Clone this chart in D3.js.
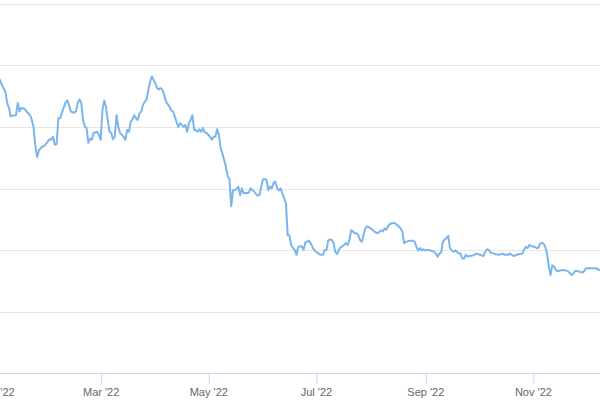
<!DOCTYPE html>
<html>
<head>
<meta charset="utf-8">
<script src="https://cdn.jsdelivr.net/npm/d3@7"></script>
<style>
  html, body { margin: 0; padding: 0; background: #ffffff; }
  svg { display: block; }
</style>
</head>
<body>
<svg id="chart" width="600" height="400"></svg>
<script>
const dates = [
  "2022-01-01","2022-01-03","2022-01-04","2022-01-06","2022-01-07","2022-01-08","2022-01-09","2022-01-10","2022-01-12","2022-01-13",
  "2022-01-14","2022-01-15","2022-01-17","2022-01-18","2022-01-20","2022-01-21","2022-01-22","2022-01-23","2022-01-24","2022-01-25",
  "2022-01-27","2022-01-28","2022-01-30","2022-01-31","2022-02-01","2022-02-02","2022-02-03","2022-02-04","2022-02-05","2022-02-06",
  "2022-02-08","2022-02-09","2022-02-10","2022-02-11","2022-02-12","2022-02-14","2022-02-15","2022-02-16","2022-02-17","2022-02-18",
  "2022-02-19","2022-02-20","2022-02-21","2022-02-22","2022-02-23","2022-02-24","2022-02-25","2022-02-27","2022-02-28","2022-03-01",
  "2022-03-02","2022-03-03","2022-03-04","2022-03-05","2022-03-06","2022-03-07","2022-03-08","2022-03-09","2022-03-10","2022-03-11",
  "2022-03-12","2022-03-13","2022-03-14","2022-03-15","2022-03-16","2022-03-17","2022-03-18","2022-03-19","2022-03-20","2022-03-21",
  "2022-03-22","2022-03-23","2022-03-24","2022-03-25","2022-03-26","2022-03-27","2022-03-28","2022-03-29","2022-03-30","2022-03-31",
  "2022-04-01","2022-04-02","2022-04-03","2022-04-04","2022-04-05","2022-04-06","2022-04-07","2022-04-09","2022-04-10","2022-04-11",
  "2022-04-12","2022-04-13","2022-04-14","2022-04-15","2022-04-17","2022-04-18","2022-04-19","2022-04-20","2022-04-21","2022-04-22",
  "2022-04-23","2022-04-24","2022-04-25","2022-04-26","2022-04-27","2022-04-28","2022-04-29","2022-04-30","2022-05-02","2022-05-03",
  "2022-05-04","2022-05-05","2022-05-06","2022-05-07","2022-05-08","2022-05-09","2022-05-10","2022-05-11","2022-05-12","2022-05-13",
  "2022-05-14","2022-05-15","2022-05-16","2022-05-17","2022-05-18","2022-05-19","2022-05-20","2022-05-21","2022-05-22","2022-05-23",
  "2022-05-24","2022-05-25","2022-05-26","2022-05-27","2022-05-28","2022-05-29","2022-05-30","2022-05-31","2022-06-01","2022-06-02",
  "2022-06-03","2022-06-04","2022-06-05","2022-06-06","2022-06-07","2022-06-08","2022-06-09","2022-06-10","2022-06-11","2022-06-12",
  "2022-06-13","2022-06-14","2022-06-15","2022-06-16","2022-06-17","2022-06-18","2022-06-19","2022-06-20","2022-06-21","2022-06-23",
  "2022-06-24","2022-06-25","2022-06-26","2022-06-27","2022-06-28","2022-06-29","2022-06-30","2022-07-01","2022-07-03","2022-07-04",
  "2022-07-05","2022-07-06","2022-07-07","2022-07-08","2022-07-09","2022-07-10","2022-07-11","2022-07-12","2022-07-13","2022-07-14",
  "2022-07-15","2022-07-17","2022-07-18","2022-07-19","2022-07-20","2022-07-21","2022-07-22","2022-07-23","2022-07-24","2022-07-25",
  "2022-07-26","2022-07-27","2022-07-28","2022-07-29","2022-07-30","2022-07-31","2022-08-02","2022-08-03","2022-08-05","2022-08-07",
  "2022-08-08","2022-08-09","2022-08-10","2022-08-11","2022-08-12","2022-08-14","2022-08-15","2022-08-17","2022-08-18","2022-08-19",
  "2022-08-20","2022-08-21","2022-08-23","2022-08-25","2022-08-26","2022-08-27","2022-08-28","2022-08-29","2022-08-30","2022-08-31",
  "2022-09-01","2022-09-03","2022-09-04","2022-09-06","2022-09-07","2022-09-08","2022-09-09","2022-09-10","2022-09-11","2022-09-12",
  "2022-09-13","2022-09-14","2022-09-15","2022-09-16","2022-09-17","2022-09-18","2022-09-20","2022-09-21","2022-09-22","2022-09-23",
  "2022-09-24","2022-09-25","2022-09-26","2022-09-28","2022-09-30","2022-10-02","2022-10-04","2022-10-05","2022-10-06","2022-10-07",
  "2022-10-08","2022-10-10","2022-10-11","2022-10-13","2022-10-15","2022-10-16","2022-10-18","2022-10-19","2022-10-20","2022-10-21",
  "2022-10-23","2022-10-24","2022-10-26","2022-10-27","2022-10-28","2022-10-29","2022-10-30","2022-10-31","2022-11-02","2022-11-03",
  "2022-11-04","2022-11-05","2022-11-06","2022-11-07","2022-11-08","2022-11-09","2022-11-10","2022-11-11","2022-11-12","2022-11-13",
  "2022-11-14","2022-11-15","2022-11-16","2022-11-17","2022-11-19","2022-11-21","2022-11-22","2022-11-23","2022-11-24","2022-11-25",
  "2022-11-27","2022-11-29","2022-11-30","2022-12-01","2022-12-03","2022-12-05","2022-12-07","2022-12-08","2022-12-09","2022-12-12"
];
const values = [
  48.3,47.7,46.9,45.8,44.0,43.2,41.8,41.9,42.0,44.0,
  42.6,43.2,43.0,42.6,42.0,41.2,39.9,36.8,35.2,36.3,
  36.9,37.0,37.7,38.1,38.0,38.5,37.2,37.3,41.5,41.5,
  43.2,44.0,44.4,43.7,42.6,42.4,42.6,44.0,44.6,44.0,
  41.2,40.2,39.9,37.5,38.2,38.0,39.1,39.3,38.8,38.0,
  42.8,44.4,43.4,41.2,39.3,39.1,38.1,38.5,42.0,40.1,
  39.1,38.8,38.5,38.0,39.6,39.3,40.9,41.3,42.0,41.5,
  41.2,42.3,42.6,43.7,44.2,44.5,46.1,47.4,48.3,47.7,
  47.2,46.4,46.2,46.4,46.1,45.3,44.2,43.4,42.8,42.6,
  41.8,40.9,40.1,40.7,40.1,40.4,39.3,40.7,41.2,42.0,
  39.6,39.6,39.3,39.7,39.3,39.9,39.2,39.1,38.5,38.0,
  38.5,38.5,39.7,38.8,36.6,35.8,34.7,33.6,32.1,31.6,
  27.2,29.8,29.8,30.0,30.4,29.0,30.1,29.3,29.4,29.3,
  29.4,30.1,29.8,29.6,29.2,28.9,29.0,30.4,31.6,31.6,
  31.5,29.8,30.4,30.1,31.0,31.2,30.1,29.8,30.1,29.3,
  28.5,27.7,22.5,22.5,20.9,20.4,20.1,19.3,20.6,20.7,
  20.1,21.3,21.4,21.6,21.2,20.6,20.1,19.8,19.4,19.3,
  19.3,20.1,20.1,21.6,21.8,21.7,21.2,19.8,19.4,20.1,
  20.5,20.9,21.2,20.9,21.7,23.3,23.1,22.8,22.8,22.5,
  21.7,21.4,22.5,23.6,23.9,23.8,23.4,23.1,22.8,23.3,
  23.1,23.6,23.4,24.0,24.3,24.5,24.4,23.9,23.6,23.1,
  21.2,21.4,21.6,21.6,21.4,20.6,20.0,20.4,20.0,20.2,
  20.0,20.1,20.0,19.8,19.5,19.0,19.5,19.7,21.4,21.8,
  22.0,22.4,20.4,20.0,19.8,20.0,19.5,19.5,18.7,18.7,
  19.3,19.0,19.1,19.2,19.5,19.3,19.1,19.8,20.2,20.1,
  19.7,19.5,19.4,19.3,19.5,19.3,19.3,19.5,19.3,19.1,
  19.3,19.4,19.5,20.1,20.6,20.4,20.9,20.7,20.6,20.4,
  20.4,21.1,21.3,21.1,20.6,19.5,17.4,16.0,17.6,17.4,
  16.8,16.6,16.7,16.8,16.8,16.6,16.3,16.0,16.3,16.7,
  16.6,16.4,16.6,17.1,17.1,17.1,17.1,16.9,16.8,16.9
];
const xDomain = ["2022-01-01", "2023-01-01"];
const xTickDates = ["2022-01-01","2022-03-01","2022-05-01","2022-07-01","2022-09-01","2022-11-01"];
const yDomain = [0, 60];
const yTicks = [0, 10, 20, 30, 40, 50, 60];

const parse = d3.utcParse("%Y-%m-%d");
const data = dates.map((d, i) => ({ date: parse(d), value: values[i] }));

const W = 600, H = 400;
const plotBottom = 373.5, plotTop = 4.5;

const x = d3.scaleUtc()
  .domain(xDomain.map(parse))
  .range([-3.4, 640.5]);
const y = d3.scaleLinear()
  .domain(yDomain)
  .range([plotBottom, plotTop]);

const svg = d3.select("#chart");

// grid lines
svg.append("g")
  .selectAll("line")
  .data(yTicks.filter(t => t !== 0))
  .join("line")
  .attr("x1", 0).attr("x2", W)
  .attr("y1", d => Math.round(y(d) - 0.5) + 0.5)
  .attr("y2", d => Math.round(y(d) - 0.5) + 0.5)
  .attr("stroke", "#e6e6e6")
  .attr("stroke-width", 1);

// x axis
const fmt = d3.utcFormat("%b '%y");
const xAxis = d3.axisBottom(x)
  .tickValues(xTickDates.map(parse))
  .tickSize(10)
  .tickSizeOuter(0)
  .tickPadding(5)
  .tickFormat(fmt);

const gx = svg.append("g")
  .attr("transform", `translate(0,${plotBottom})`)
  .call(xAxis);
gx.select(".domain").remove();
gx.append("line")
  .attr("x1", 0).attr("x2", W).attr("y1", 0).attr("y2", 0)
  .attr("stroke", "#ccd6eb").attr("stroke-width", 1);
gx.selectAll(".tick line")
  .attr("stroke", "#ccd6eb")
  .attr("transform", "translate(0.5,0)");
gx.selectAll(".tick text")
  .attr("fill", "#666666")
  .attr("font-family", "'Liberation Sans', Arial, Helvetica, sans-serif")
  .attr("font-size", "11px")
  .attr("dy", "0.71em");

// line
svg.append("defs").append("clipPath").attr("id", "clip")
  .append("rect").attr("x", 0).attr("y", 0).attr("width", W).attr("height", plotBottom);

const line = d3.line()
  .x(d => x(d.date))
  .y(d => y(d.value));

svg.append("path")
  .datum(data)
  .attr("clip-path", "url(#clip)")
  .attr("fill", "none")
  .attr("stroke", "#7cb5ec")
  .attr("stroke-width", 2)
  .attr("stroke-linejoin", "round")
  .attr("stroke-linecap", "round")
  .attr("d", line);
</script>
</body>
</html>
